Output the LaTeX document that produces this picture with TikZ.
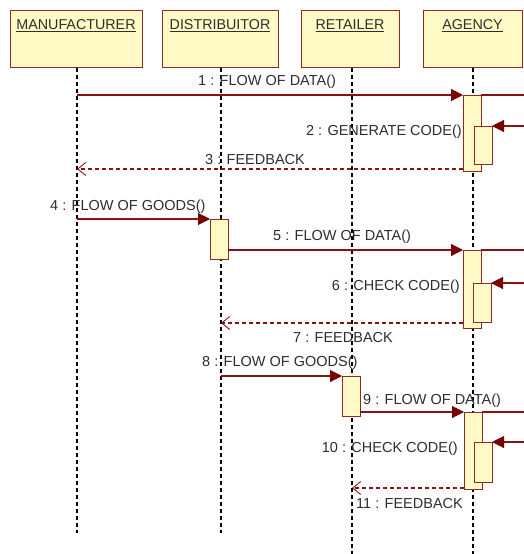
\documentclass[tikz,border=0pt]{standalone}
\usepackage{fontspec}
\setmainfont{Liberation Sans}
\usetikzlibrary{arrows.meta}
\definecolor{boxfill}{RGB}{255,250,198}
\definecolor{boxline}{RGB}{150,40,35}
\definecolor{msgc}{RGB}{135,20,20}
\definecolor{tipc}{RGB}{120,0,0}
\definecolor{txtc}{RGB}{45,45,45}
\begin{document}
\begin{tikzpicture}[x=1pt,y=-1pt,
  objbox/.style={draw=boxline,fill=boxfill,line width=1pt,anchor=north west,inner sep=0pt,minimum height=57pt},
  objtext/.style={inner sep=0pt,text=txtc,font=\fontsize{14.3}{16}\selectfont},
  lifeline/.style={draw=black,line width=1.2pt,dash pattern=on 4pt off 3pt},
  actbar/.style={draw=boxline,fill=boxfill,line width=1pt,anchor=north,inner sep=0pt,outer sep=0pt,minimum width=18pt},
  msgline/.style={draw=msgc,line width=1.1pt,-{Triangle[length=12pt,width=12pt,color=tipc]}},
  plainline/.style={draw=msgc,line width=1.1pt},
  fbline/.style={draw=msgc,line width=1.4pt,dash pattern=on 4pt off 3pt,-{Straight Barb[length=8pt,width=13pt,line width=0.9pt]}},
  lbl/.style={inner sep=0pt,text=txtc,font=\fontsize{14.5}{16}\selectfont}
]
\useasboundingbox (0,0) rectangle (524,554);
% header boxes
\node[objbox,minimum width=132pt] (man) at (10,10) {};
\node[objbox,minimum width=116pt] (dis) at (162,10) {};
\node[objbox,minimum width=98pt] (ret) at (301,10) {};
\node[objbox,minimum width=99pt] (age) at (423,10) {};
\node[objtext] (mant) at (76,26) {\underline{MANUFACTURER}};
\node[objtext] (dist) at (220,26) {\underline{DISTRIBUITOR}};
\node[objtext] (rett) at (350,26) {\underline{RETAILER}};
\node[objtext] (aget) at (472.5,26) {\underline{AGENCY}};
% lifeline ends
\coordinate (manE) at (77,533);
\coordinate (disE) at (221,533);
\coordinate (retE) at (352,554);
\coordinate (ageE) at (473,554);
\draw[lifeline] (man.south -| manE) -- (manE);
\draw[lifeline] (dis.south -| disE) -- (disE);
\draw[lifeline] (ret.south -| retE) -- (retE);
\draw[lifeline] (age.south -| ageE) -- (ageE);
% activation bars
\node[actbar,minimum height=76pt] (a1) at (472,95) {};
\node[actbar,minimum height=38pt] (a1n) at (483,126) {};
\node[actbar,minimum height=40pt] (d1) at (219,219) {};
\node[actbar,minimum height=78pt] (a2) at (472,250) {};
\node[actbar,minimum height=39pt] (a2n) at (482,283) {};
\node[actbar,minimum height=40pt] (r1) at (351,376) {};
\node[actbar,minimum height=77pt] (a3) at (473,412) {};
\node[actbar,minimum height=40pt] (a3n) at (483,442) {};
% coordinates
\coordinate (s1) at (77,95);
\coordinate (e1) at (524,95);
\coordinate (e2) at (524,126);
\coordinate (f3) at (77,169);
\coordinate (s4) at (77,219);
\coordinate (e5) at (524,250);
\coordinate (e6) at (524,283);
\coordinate (f7) at (221,323);
\coordinate (s8) at (221,376);
\coordinate (e9) at (524,412);
\coordinate (e10) at (524,442);
\coordinate (f11) at (352,488);
% messages
\draw[msgline] (s1) -- (a1.north west);
\draw[plainline] (a1.north east) -- (e1);
\draw[msgline] (e2) -- (a1n.north east);
\draw[fbline] (a1.west |- f3) -- (f3);
\draw[msgline] (s4) -- (d1.north west);
\draw[msgline] (d1.east |- a2.north) -- (a2.north west);
\draw[plainline] (a2.north east) -- (e5);
\draw[msgline] (e6) -- (a2n.north east);
\draw[fbline] (a2.west |- f7) -- (f7);
\draw[msgline] (s8) -- (r1.north west);
\draw[msgline] (r1.east |- a3.north) -- (a3.north west);
\draw[plainline] (a3.north east) -- (e9);
\draw[msgline] (e10) -- (a3n.north east);
\draw[fbline] (a3.west |- f11) -- (f11);
% labels
\node[lbl,anchor=west] (l1) at (198,82) {1 : FLOW OF DATA()};
\node[lbl,anchor=east] (l2) at (462,132) {2 : GENERATE CODE()};
\node[lbl,anchor=west] (l3) at (205,160) {3 : FEEDBACK};
\node[lbl,anchor=west] (l4) at (50,207) {4 : FLOW OF GOODS()};
\node[lbl,anchor=west] (l5) at (273,237) {5 : FLOW OF DATA()};
\node[lbl,anchor=east] (l6) at (460,287) {6 : CHECK CODE()};
\node[lbl,anchor=west] (l7) at (293,338) {7 : FEEDBACK};
\node[lbl,anchor=west] (l8) at (202,363) {8 : FLOW OF GOODS()};
\node[lbl,anchor=west] (l9) at (363,401) {9 : FLOW OF DATA()};
\node[lbl,anchor=east] (l10) at (458,449) {10 : CHECK CODE()};
\node[lbl,anchor=west] (l11) at (356,504) {11 : FEEDBACK};
\end{tikzpicture}
\end{document}
